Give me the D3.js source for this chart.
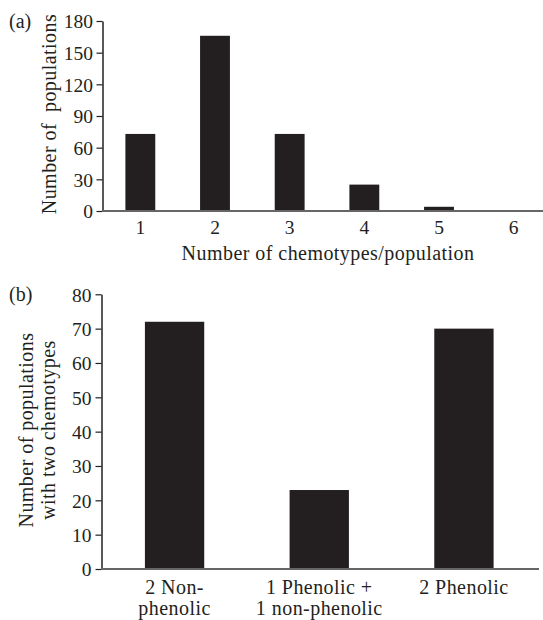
<!DOCTYPE html>
<html><head><meta charset="utf-8">
<script src="https://cdn.jsdelivr.net/npm/d3@7"></script>
<style>
body{margin:0;background:#fff;}
text{font-family:"Liberation Serif","DejaVu Serif",serif;fill:#231f20;}
</style></head>
<body><svg id="c" width="543" height="620"></svg>
<script>
// Panel (a)
const catsA = ["1","2","3","4","5","6"];
const valsA = [73, 166, 73, 25, 4, 0];
const ticksA = [0,30,60,90,120,150,180];
// Panel (b)
const catsB = [["2 Non-","phenolic"],["1 Phenolic +","1 non-phenolic"],["2 Phenolic"]];
const valsB = [72, 23, 70];
const ticksB = [0,10,20,30,40,50,60,70,80];

const FS = 19.5;   // tick labels
const TS = 20;     // titles
const LS = "0.45px";
const barColor = "#231f20";
const svg = d3.select("#c");

// ---- Panel a ----
const xA = d3.scaleBand().domain(catsA).range([103, 551]).paddingInner(0.6).paddingOuter(0.3);
const yA = d3.scaleLinear().domain([0,180]).range([211, 21]);
const gA = svg.append("g");
gA.selectAll("rect").data(valsA).join("rect")
  .attr("x",(d,i)=>xA(catsA[i])).attr("width",xA.bandwidth())
  .attr("y",d=>yA(d)).attr("height",d=>yA(0)-yA(d)).attr("fill",barColor);
const axYA = gA.append("g").attr("transform","translate(102.5,0)")
  .call(d3.axisLeft(yA).tickValues(ticksA).tickSize(6).tickPadding(3.5).tickSizeOuter(0));
axYA.select(".domain").attr("stroke","#231f20").attr("stroke-width",1.5);
axYA.selectAll(".tick line").attr("stroke","#231f20").attr("stroke-width",1.2);
axYA.selectAll("text").attr("font-size",FS).attr("font-family",null).attr("fill","#231f20").attr("dy","0.35em");
const axXA = gA.append("g").attr("transform","translate(0,211)")
  .call(d3.axisBottom(xA).tickSize(0).tickPadding(9));
axXA.select(".domain").attr("stroke","#666").attr("stroke-width",2).attr("d","M102,0H543");
axXA.selectAll("text").attr("font-size",FS).attr("font-family",null).attr("fill","#231f20");
svg.append("text").attr("x",328).attr("y",260).attr("text-anchor","middle").attr("font-size",TS)
  .style("letter-spacing",LS).text("Number of chemotypes/population");
svg.append("text").attr("transform","translate(56,114) rotate(-90)").attr("text-anchor","middle")
  .attr("font-size",TS).style("letter-spacing",LS).style("white-space","pre").text("Number of  populations");
svg.append("text").attr("x",9).attr("y",28).attr("font-size",TS).text("(a)");

// ---- Panel b ----
const xB = d3.scaleBand().domain(catsB.map(d=>d.join(" "))).range([101.5, 537]).paddingInner(0.59).paddingOuter(0.3);
const yB = d3.scaleLinear().domain([0,80]).range([569, 294.3]);
const gB = svg.append("g");
gB.selectAll("rect").data(valsB).join("rect")
  .attr("x",(d,i)=>xB(catsB[i].join(" "))).attr("width",xB.bandwidth())
  .attr("y",d=>yB(d)).attr("height",d=>yB(0)-yB(d)).attr("fill",barColor);
const axYB = gB.append("g").attr("transform","translate(101.5,0)")
  .call(d3.axisLeft(yB).tickValues(ticksB).tickSize(6).tickPadding(4).tickSizeOuter(0));
axYB.select(".domain").attr("stroke","#231f20").attr("stroke-width",1.5);
axYB.selectAll(".tick line").attr("stroke","#231f20").attr("stroke-width",1.2);
axYB.selectAll("text").attr("font-size",FS).attr("font-family",null).attr("fill","#231f20").attr("dy","0.35em");
const axXB = gB.append("g").attr("transform","translate(0,569)")
  .call(d3.axisBottom(xB).tickSize(0).tickFormat(()=>""));
axXB.select(".domain").attr("stroke","#666").attr("stroke-width",2).attr("d","M101,0H539");
axXB.selectAll(".tick").each(function(d,i){
  const t = d3.select(this).append("text").attr("text-anchor","middle").attr("font-size",TS)
    .style("letter-spacing",LS).attr("fill","#231f20");
  catsB[i].forEach((line,j)=>t.append("tspan").attr("x",0).attr("y",25+j*21).text(line));
});
const yt = svg.append("text").attr("transform","translate(0,430) rotate(-90)").attr("text-anchor","middle")
  .attr("font-size",TS).style("letter-spacing",LS);
yt.append("tspan").attr("x",0).attr("y",33).text("Number of populations");
yt.append("tspan").attr("x",0).attr("y",55).text("with two chemotypes");
svg.append("text").attr("x",9).attr("y",301).attr("font-size",TS).text("(b)");
</script></body></html>
